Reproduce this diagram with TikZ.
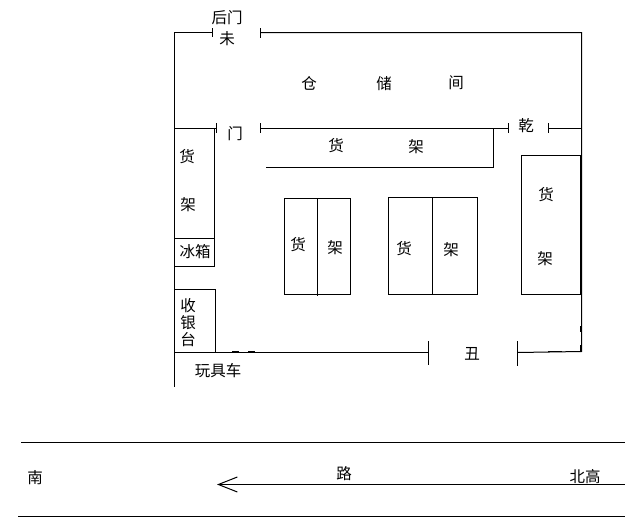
\documentclass[tikz,border=0pt]{standalone}
\usepackage{fontspec}
\setmainfont{Noto Sans CJK SC}
\usetikzlibrary{arrows.meta}

\begin{document}
\begin{tikzpicture}[x=1pt, y=-1pt, line width=1pt,
    lbl/.style={inner sep=0pt, font=\fontsize{15.5}{15.5}\selectfont},
    mark line/.style={line width=1.5pt}]
  \useasboundingbox (0,0) rectangle (625,522);
  % outer walls
  \draw (212,32.5) -- (174.5,32.5) -- (174.5,387);
  \draw (260,32.5) -- (581.5,32.5) -- (581.5,351.5) -- (517.5,352.5);
  \draw (174.5,352) -- (428.5,352);
  \draw (212.5,28) -- (212.5,37);
  \draw (260.5,28) -- (260.5,38);
  \draw (428.5,341) -- (428.5,365);
  \draw (517.5,341) -- (517.5,366);
  % inner wall
  \draw (174.5,128.5) -- (216.5,128.5);
  \draw (260.5,128.5) -- (508.5,128.5);
  \draw (548.5,128.5) -- (581.5,128.5);
  \draw (216.5,123) -- (216.5,133);
  \draw (260.5,123) -- (260.5,133);
  \draw (508.5,123) -- (508.5,133);
  \draw (548.5,123) -- (548.5,133);
  % shelves
  \draw (266,167.5) -- (493.5,167.5) -- (493.5,128.5);
  \draw (214.5,128.5) -- (214.5,266.5) -- (174.5,266.5);
  \draw (174.5,238.5) -- (214.5,238.5);
  \draw (174.5,289.5) -- (215.5,289.5) -- (215.5,352);
  \draw (284.5,198.5) rectangle (350.5,294.5);
  \draw (317.5,198.5) -- (317.5,296);
  \draw (388.5,197.5) rectangle (477.5,294.5);
  \draw (432.5,197.5) -- (432.5,294.5);
  \draw (521.5,155.5) rectangle (580.5,294.5);
  % small marks on the walls
  \draw[mark line] (232,351.5) -- (239,351.5);
  \draw[mark line] (248,351.5) -- (255,351.5);
  \draw[mark line] (548,351.5) -- (562,351.5);
  \draw[mark line] (581,326) -- (581,332);
  \draw[mark line] (581,345) -- (581,351);
  % road
  \draw (21,442.5) -- (625,442.5);
  \draw (18,516.5) -- (625,516.5);
  \draw[-{Straight Barb[length=19pt, width=15pt]}] (625,484.5) -- (217,484.5);

  \node[lbl] (backdoor) at (227,18) {后门};
  \node[lbl] (wei) at (227,39) {未};
  \node[lbl] (cang) at (309,83) {仓};
  \node[lbl] (chu) at (384,84) {储};
  \node[lbl] (jian) at (456,83) {间};
  \node[lbl] (door) at (235,134) {门};
  \node[lbl] (qian) at (526,126) {乾};
  \node[lbl] (topa) at (336,146) {货};
  \node[lbl] (topb) at (416,147) {架};
  \node[lbl] (lefta) at (187,157) {货};
  \node[lbl] (leftb) at (188,205) {架};
  \node[lbl] (fridge) at (195,252) {冰箱};
  \node[lbl] (cashiera) at (188,306) {收};
  \node[lbl] (cashierb) at (188,323) {银};
  \node[lbl] (cashierc) at (188,340) {台};
  \node[lbl] (mida) at (298,245) {货};
  \node[lbl] (midb) at (335,248) {架};
  \node[lbl] (nexta) at (404,249) {货};
  \node[lbl] (nextb) at (451,250) {架};
  \node[lbl] (righta) at (546,195) {货};
  \node[lbl] (rightb) at (545,259) {架};
  \node[lbl] (chou) at (472,354) {丑};
  \node[lbl] (toycar) at (218,371) {玩具车};
  \node[lbl] (south) at (35,478) {南};
  \node[lbl] (road) at (344,474) {路};
  \node[lbl] (north) at (585,477) {北高};
\end{tikzpicture}
\end{document}
